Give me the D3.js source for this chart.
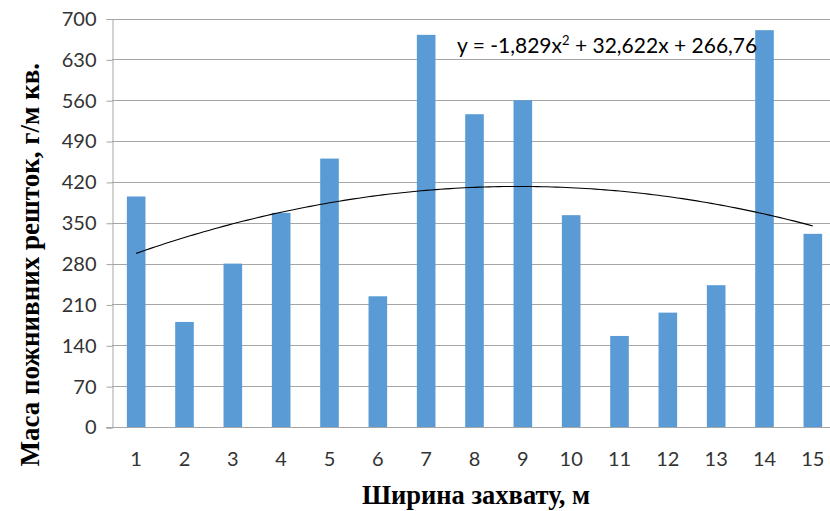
<!DOCTYPE html>
<html>
<head>
<meta charset="utf-8">
<script src="https://cdn.jsdelivr.net/npm/d3@7"></script>
<style>
  body { margin: 0; background: #fff; }
  svg { display: block; overflow: hidden; }
</style>
</head>
<body>
<div id="chart"></div>
<script>
const categories = ['1', '2', '3', '4', '5', '6', '7', '8', '9', '10', '11', '12', '13', '14', '15']
const values = [395, 180, 280, 367, 460, 224, 672, 536, 560, 363, 156, 196, 243, 680, 331]
const yTicks = [0, 70, 140, 210, 280, 350, 420, 490, 560, 630, 700]
// trendline y = a*x^2 + b*x + c, as printed on the chart
const trendCoef = [-1.829, 32.622, 266.76]

const W = 830, H = 511
const MARGIN = { TOP: 18.5, LEFT: 112, RIGHT: -7, BOTTOM: 84 }

const svg = d3.select('#chart').append('svg')
	.attr('width', W)
	.attr('height', H)

const xScale = d3.scaleBand()
	.domain(categories)
	.range([MARGIN.LEFT, W - MARGIN.RIGHT])
	.paddingInner(0.615)
	.paddingOuter(0.3075)

const yScale = d3.scaleLinear()
	.domain([0, 700])
	.range([H - MARGIN.BOTTOM, MARGIN.TOP])

// gridlines
svg.append('g')
	.selectAll('line')
	.data(yTicks.filter(d => d > 0))
	.enter().append('line')
		.attr('x1', MARGIN.LEFT)
		.attr('x2', W)
		.attr('y1', d => Math.round(yScale(d)) + 0.5)
		.attr('y2', d => Math.round(yScale(d)) + 0.5)
		.attr('stroke', '#a6a6a6')
		.attr('stroke-width', 1)

// bars
svg.append('g')
	.selectAll('rect')
	.data(values)
	.enter().append('rect')
		.attr('x', (d, i) => xScale(categories[i]))
		.attr('y', d => yScale(d))
		.attr('width', xScale.bandwidth())
		.attr('height', d => yScale(0) - yScale(d))
		.attr('fill', '#5b9bd5')

// y axis
const yAxisCall = d3.axisLeft(yScale)
	.tickValues(yTicks)
	.tickSize(6)
	.tickPadding(10)
const yAxis = svg.append('g')
	.attr('transform', `translate(${MARGIN.LEFT + 0.5}, 0.5)`)
	.call(yAxisCall)
yAxis.select('.domain').attr('stroke', '#a6a6a6')
yAxis.selectAll('.tick line').attr('stroke', '#a6a6a6')
yAxis.selectAll('.tick text')
	.attr('font-family', 'Lato, "Open Sans", sans-serif')
	.attr('font-size', 20)
	.attr('fill', '#333')

// x axis
const xAxisCall = d3.axisBottom(xScale)
	.tickSize(0)
	.tickPadding(24)
const xAxis = svg.append('g')
	.attr('transform', `translate(0, ${Math.round(yScale(0)) + 0.5})`)
	.call(xAxisCall)
xAxis.select('.domain').remove()
xAxis.append('line')
	.attr('x1', MARGIN.LEFT - 6)
	.attr('x2', W)
	.attr('stroke', '#a6a6a6')
xAxis.selectAll('.tick text')
	.attr('font-family', 'Lato, "Open Sans", sans-serif')
	.attr('font-size', 20)
	.attr('fill', '#333')

// polynomial trendline
const xNum = d3.scaleLinear()
	.domain([1, 15])
	.range([xScale('1') + xScale.bandwidth() / 2, xScale('15') + xScale.bandwidth() / 2])
const trendPts = d3.range(1, 15.01, 0.1).map(x => [x, trendCoef[0] * x * x + trendCoef[1] * x + trendCoef[2]])
svg.append('path')
	.datum(trendPts)
	.attr('fill', 'none')
	.attr('stroke', '#000')
	.attr('stroke-width', 1.1)
	.attr('d', d3.line().x(d => xNum(d[0])).y(d => yScale(d[1])))

// equation label
const eq = svg.append('text')
	.attr('x', 457)
	.attr('y', 53)
	.attr('font-family', 'Lato, "Open Sans", sans-serif')
	.attr('font-size', 21)
	.attr('fill', '#000')
eq.append('tspan').text('y = -1,829x')
eq.append('tspan').attr('dy', -8).attr('font-size', 13).text('2')
eq.append('tspan').attr('dy', 8).text(' + 32,622x + 266,76')

// axis titles
svg.append('text')
	.attr('transform', `translate(39, ${(MARGIN.TOP + yScale(0)) / 2 + 42}) rotate(-90)`)
	.attr('text-anchor', 'middle')
	.attr('font-family', '"Liberation Serif", "Times New Roman", serif')
	.attr('font-weight', 'bold')
	.attr('font-size', 27)
	.text('Маса пожнивних решток, г/м кв.')

svg.append('text')
	.attr('x', 476)
	.attr('y', 504)
	.attr('text-anchor', 'middle')
	.attr('font-family', '"Liberation Serif", "Times New Roman", serif')
	.attr('font-weight', 'bold')
	.attr('font-size', 26.5)
	.text('Ширина захвату, м')
</script>
</body>
</html>
